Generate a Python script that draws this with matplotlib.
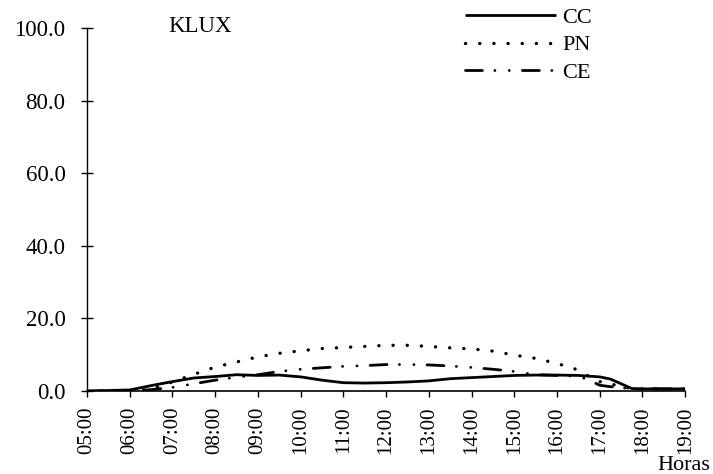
import matplotlib.pyplot as plt
import numpy as np

# hours of the day and readings (KLUX)
hours = [5, 6, 6.5, 7, 7.5, 8, 8.5, 9, 9.5, 10, 10.5, 11, 11.5, 12, 12.5,
         13, 13.5, 14, 14.5, 15, 15.5, 16, 16.5, 16.75, 17, 17.25, 17.5, 17.75, 18, 19]
cc = [0, 0.3, 1.5, 2.6, 3.6, 4.0, 4.5, 4.3, 4.4, 3.9, 3.0, 2.3, 2.2, 2.3, 2.5,
      2.8, 3.4, 3.7, 4.0, 4.3, 4.4, 4.4, 4.3, 4.1, 3.9, 3.3, 2.0, 0.7, 0.6, 0.6]
pn = [0, 0, 0.5, 2.5, 4.6, 6.6, 8.0, 9.4, 10.4, 11.1, 11.7, 12.0, 12.3, 12.6, 12.6,
      12.3, 11.9, 11.6, 11.0, 9.9, 9.0, 7.6, 5.8, 4.0, 2.6, 2.0, 1.2, 0.7, 0.6, 0.6]
ce = [0, 0, 0.4, 1.0, 2.0, 3.0, 3.8, 4.5, 5.4, 6.0, 6.4, 6.8, 7.0, 7.3, 7.3,
      7.2, 6.9, 6.5, 6.0, 5.4, 4.5, 4.3, 4.1, 3.0, 1.6, 1.2, 0.9, 0.6, 0.6, 0.6]

tick_hours = list(range(5, 20))
tick_labels = ['%02d:00' % h for h in tick_hours]
y_ticks = [0, 20, 40, 60, 80, 100]
y_labels = ['0.0', '20.0', '40.0', '60.0', '80.0', '100.0']

plt.rcParams['font.family'] = ['Liberation Serif', 'DejaVu Serif']

fig = plt.figure(figsize=(7.13, 4.74), dpi=100)
ax = fig.add_axes([0.122, 0.175, 0.839, 0.766])

ax.plot(hours, cc, color='black', lw=2.0, solid_capstyle='butt', label='CC')
ax.plot(hours, pn, color='black', lw=2.4, linestyle=(0, (0.05, 4.2)),
        dash_capstyle='round', label='PN')
ax.plot(hours, ce, color='black', lw=2.0,
        linestyle=(0, (6.1, 4.45, 0.05, 5.15, 0.05, 4.7)),
        dash_capstyle='round', label='CE')

ax.set_xlim(5, 19)
ax.set_ylim(0, 100)
ax.spines['top'].set_visible(False)
ax.spines['right'].set_visible(False)
ax.spines['left'].set_linewidth(1.0)
ax.spines['bottom'].set_linewidth(1.2)

ax.set_yticks(y_ticks)
ax.set_yticklabels(y_labels, fontsize=16.5)
ax.tick_params(axis='y', direction='inout', length=9, width=1, pad=11)
ax.set_xticks(tick_hours)
ax.set_xticklabels(tick_labels, rotation=90, fontsize=15)
ax.tick_params(axis='x', direction='out', length=4, width=1, pad=7)

ax.text(0.136, 1.005, 'KLUX', transform=ax.transAxes, fontsize=16.5,
        ha='left', va='center')
fig.text(0.922, 0.008, 'Horas', fontsize=16, ha='left', va='baseline')

ax.legend(loc='upper left', bbox_to_anchor=(0.634, 1.012), bbox_transform=fig.transFigure,
          frameon=False, fontsize=16, handlelength=4.1, handletextpad=0.25,
          labelspacing=0.3, borderpad=0.1)

fig.savefig('out.png', dpi=100)
